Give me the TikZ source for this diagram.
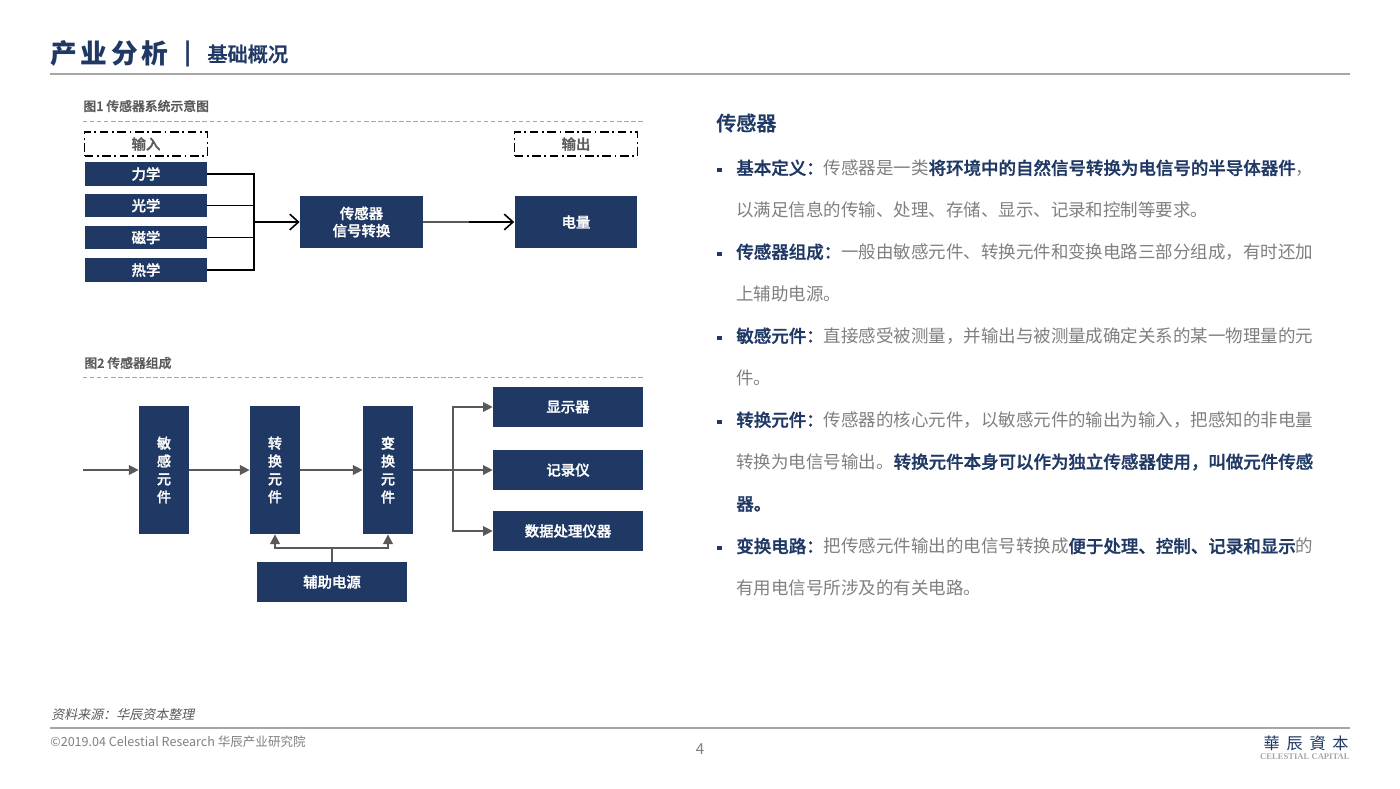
\documentclass[tikz,border=0pt]{standalone}
\usepackage{fontspec}
\usetikzlibrary{arrows.meta}
\setmainfont[BoldFont={Noto Sans CJK SC Medium},BoldFeatures={FakeBold=1.3}]{Noto Sans CJK SC}
\newfontfamily\slantfont[FakeSlant=0.2]{Noto Sans CJK SC}
\newfontfamily\logofont[LetterSpace=42]{Noto Sans CJK TC}
\newfontfamily\headfont[LetterSpace=14]{Noto Sans CJK SC}
\newfontfamily\latinfont{Liberation Serif}
\definecolor{navy}{HTML}{1F3864}
\definecolor{txtgray}{HTML}{7F7F7F}
\definecolor{capgray}{HTML}{595959}
\definecolor{rulegray}{HTML}{A6A6A6}
\begin{document}
\begin{tikzpicture}[x=0.02cm,y=-0.02cm,
		box/.style = {fill=navy, text=white, inner sep=0pt, align=center,
			font=\fontsize{8.2}{9.8}\selectfont\bfseries},
		inbox/.style = {box, minimum width=2.44cm, minimum height=0.47cm},
		sigbox/.style = {box, minimum width=2.46cm, minimum height=1.04cm},
		vbox/.style = {box, minimum width=1cm, minimum height=2.56cm,
			font=\fontsize{8}{10.2}\selectfont\bfseries},
		outbox/.style = {box, minimum width=3cm, minimum height=0.8cm},
		dashbox/.style = {draw=black, thick, dash pattern=on 5pt off 2pt on 1pt off 2pt,
			minimum width=2.46cm, minimum height=0.48cm, inner sep=0pt,
			text=capgray, font=\fontsize{8.2}{9.8}\selectfont\bfseries},
		figcap/.style = {anchor=west, inner sep=0pt, text=capgray,
			font=\fontsize{7.3}{8}\selectfont\bfseries},
		capline/.style = {draw=rulegray, line width=0.5pt, dash pattern=on 2.5pt off 1.5pt},
		txt/.style = {anchor=west, inner sep=0pt, text=txtgray,
			font=\fontsize{9.95}{12}\selectfont},
		bullet/.style = {fill=navy, minimum size=0.09cm, inner sep=0pt},
		blk/.style = {draw=black, line width=0.9pt},
		blkarr/.style = {blk, -{Straight Barb[length=5pt,width=9pt,line width=0.9pt]}},
		arr/.style = {draw=capgray, line width=0.8pt},
		gryarr/.style = {arr, -{Triangle[length=5.5pt,width=5.5pt]}},
	]
	\useasboundingbox (0,0) rectangle (1400,788);
	
	% header and footer
	\node[anchor=west, inner sep=0pt, text=navy] (head) at (50,53)
		{\headfont\fontsize{15.2}{18}\selectfont\bfseries 产业分析};
	\node[anchor=center, inner sep=0pt, text=navy] (bar) at (188,54)
		{\headfont\fontsize{13}{16}\selectfont\bfseries |};
	\node[anchor=west, inner sep=0pt, text=navy] (subhead) at (207,54)
		{\fontsize{11.5}{14}\selectfont\bfseries 基础概况};
	\draw[rulegray, line width=1.6pt] (50,74) -- (1350,74);
	\draw[rulegray, line width=1.2pt] (50,728) -- (1350,728);
	\node[anchor=west, inner sep=0pt, text=capgray] (source) at (51,714.5)
		{\slantfont\fontsize{7.4}{9}\selectfont 资料来源：华辰资本整理};
	\node[anchor=west, inner sep=0pt, text=txtgray] (copy) at (50,742)
		{\fontsize{7.15}{9}\selectfont ©2019.04 Celestial Research 华辰产业研究院};
	\node[text=txtgray, inner sep=0pt] (page) at (700,749)
		{\fontsize{8.6}{10}\selectfont 4};
	\node[anchor=east, inner sep=0pt, text=navy] (logo) at (1349,743)
		{\logofont\fontsize{9.2}{11}\selectfont 華辰資本};
	\node[anchor=east, inner sep=0pt, text=rulegray] (logoen) at (1350,757)
		{\latinfont\fontsize{4.9}{6}\selectfont\bfseries CELESTIAL CAPITAL};
	
	% figure 1
	\node[figcap] (capa) at (83,106) {图1 传感器系统示意图};
	\draw[capline] (83,121) -- (643,121);
	\node[dashbox] (shuru) at (146,144) {输入};
	\node[dashbox] (shuchu) at (576,144) {输出};
	\foreach \nm/\txt/\yy in {lixue/力学/174, guangxue/光学/205.5, cixue/磁学/237.5, rexue/热学/270}
		\node[inbox] (\nm) at (146,\yy) {\txt};
	\node[sigbox] (xinhao) at (361.5,222) {传感器\\信号转换};
	\node[sigbox] (dianliang) at (576,222) {电量};
	\coordinate (bus) at (254,222);
	\coordinate (xmid) at (469,222);
	\foreach \nm in {lixue,guangxue,cixue,rexue}
		\draw[blk] (\nm.east) -| (bus);
	\draw[blkarr] (bus) -- (xinhao.west);
	\draw[arr] (xinhao.east) -- (xmid);
	\draw[blkarr] (xmid) -- (dianliang.west);
	
	% figure 2
	\node[figcap] (capb) at (84,363) {图2 传感器组成};
	\draw[capline] (83,377) -- (643,377);
	\node[vbox] (minggan) at (164,470) {敏\\感\\元\\件};
	\node[vbox] (zhuanhuan) at (275,470) {转\\换\\元\\件};
	\node[vbox] (bianhuan) at (388,470) {变\\换\\元\\件};
	\node[outbox] (xianshi) at (568,407) {显示器};
	\node[outbox] (jilu) at (568,470) {记录仪};
	\node[outbox] (shuju) at (568,531) {数据处理仪器};
	\node[outbox] (fuzhu) at (332,582) {辅助电源};
	\coordinate (inp) at (83,470);
	\coordinate (outbus) at (453,470);
	\coordinate (powbus) at (332,548);
	\draw[gryarr] (inp) -- (minggan);
	\draw[gryarr] (minggan) -- (zhuanhuan);
	\draw[gryarr] (zhuanhuan) -- (bianhuan);
	\draw[gryarr] (bianhuan) -- (jilu);
	\draw[gryarr] (outbus) |- (xianshi);
	\draw[gryarr] (outbus) |- (shuju);
	\draw[arr] (fuzhu) -- (powbus);
	\draw[gryarr] (powbus) -| (zhuanhuan.south);
	\draw[gryarr] (powbus) -| (bianhuan.south);
	
	% right text
	\node[anchor=west, inner sep=0pt, text=navy] (title) at (716,123)
		{\fontsize{11.4}{14}\selectfont\bfseries 传感器};
	\foreach \yy/\nm in {170/ba, 254/bb, 338/bc, 422/bd, 548/be}
		\node[bullet] (\nm) at (719.5,\yy) {};
	\node[txt] (la) at (736,168) {\textcolor{navy}{\bfseries 基本定义：}传感器是一类\textcolor{navy}{\bfseries 将环境中的自然信号转换为电信号的半导体器件}，};
	\node[txt] (lb) at (736,210) {以满足信息的传输、处理、存储、显示、记录和控制等要求。};
	\node[txt] (lc) at (736,252) {\textcolor{navy}{\bfseries 传感器组成：}一般由敏感元件、转换元件和变换电路三部分组成，有时还加};
	\node[txt] (ld) at (736,294) {上辅助电源。};
	\node[txt] (le) at (736,336) {\textcolor{navy}{\bfseries 敏感元件：}直接感受被测量，并输出与被测量成确定关系的某一物理量的元};
	\node[txt] (lf) at (736,378) {件。};
	\node[txt] (lg) at (736,420) {\textcolor{navy}{\bfseries 转换元件：}传感器的核心元件，以敏感元件的输出为输入，把感知的非电量};
	\node[txt] (lh) at (736,462) {转换为电信号输出。\textcolor{navy}{\bfseries 转换元件本身可以作为独立传感器使用，叫做元件传感}};
	\node[txt] (li) at (736,504) {\textcolor{navy}{\bfseries 器。}};
	\node[txt] (lj) at (736,546) {\textcolor{navy}{\bfseries 变换电路：}把传感元件输出的电信号转换成\textcolor{navy}{\bfseries 便于处理、控制、记录和显示}的};
	\node[txt] (lk) at (736,588) {有用电信号所涉及的有关电路。};
\end{tikzpicture}
\end{document}
